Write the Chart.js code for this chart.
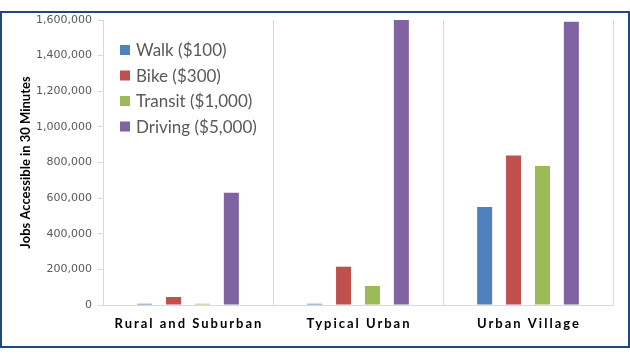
<!DOCTYPE html>
<html>
<head>
<meta charset="utf-8">
<script src="https://cdn.jsdelivr.net/npm/chart.js@4/dist/chart.umd.min.js"></script>
<style>
  html, body { margin: 0; padding: 0; background: #fff; }
  #wrap { width: 630px; height: 360px; position: relative; }
</style>
</head>
<body>
<div id="wrap"><canvas id="jobs-chart" width="630" height="360"></canvas></div>
<script>
// chart values
const categories = ['Rural and Suburban', 'Typical Urban', 'Urban Village'];
const seriesNames = ['Walk ($100)', 'Bike ($300)', 'Transit ($1,000)', 'Driving ($5,000)'];
const walkJobs = [7000, 7000, 550000];
const bikeJobs = [45000, 215000, 840000];
const transitJobs = [7000, 107000, 780000];
const drivingJobs = [630000, 1600000, 1590000];
const yTicks = [0, 200000, 400000, 600000, 800000, 1000000, 1200000, 1400000, 1600000];

const colors = ['#4F81BD', '#C0504D', '#9BBB59', '#8064A2'];
const seriesValues = [walkJobs, bikeJobs, transitJobs, drivingJobs];

// outer frame round the whole chart
const framePlugin = {
    id: 'frame',
    beforeDraw(chart) {
        const ctx = chart.ctx;
        ctx.save();
        ctx.fillStyle = '#fff';
        ctx.fillRect(0, 0, chart.width, chart.height);
        ctx.strokeStyle = '#1F497D';
        ctx.lineWidth = 2;
        ctx.strokeRect(1, 12, 628, 335);
        ctx.restore();
    }
};

// legend sits inside the plot, top left
const innerLegend = {
    id: 'innerLegend',
    afterDraw(chart) {
        const ctx = chart.ctx;
        ctx.save();
        ctx.font = '17px Lato, "Open Sans", sans-serif';
        ctx.textBaseline = 'middle';
        chart.data.datasets.forEach((ds, i) => {
            const y = 50 + i * 25.5;
            ctx.fillStyle = ds.backgroundColor;
            ctx.fillRect(120, y - 5, 10, 10);
            ctx.fillStyle = '#595959';
            ctx.fillText(ds.label, 136, y + 1);
        });
        ctx.restore();
    }
};

// category labels are bold and letter spaced
const spacedLabels = {
    id: 'spacedLabels',
    afterDraw(chart) {
        const ctx = chart.ctx;
        const xScale = chart.scales.x;
        ctx.save();
        ctx.font = 'bold 13px Lato, "Open Sans", sans-serif';
        ctx.letterSpacing = '2px';
        ctx.fillStyle = '#000';
        ctx.textAlign = 'center';
        ctx.textBaseline = 'middle';
        categories.forEach((c, i) => {
            ctx.fillText(c, xScale.getPixelForTick(i) + 1, 324);
        });
        ctx.restore();
    }
};

const ctx = document.getElementById('jobs-chart').getContext('2d');
new Chart(ctx, {
    type: 'bar',
    data: {
        labels: categories,
        datasets: seriesNames.map((name, i) => ({
            label: name,
            data: seriesValues[i],
            backgroundColor: colors[i],
            categoryPercentage: 0.68,
            barPercentage: 0.52
        }))
    },
    options: {
        responsive: false,
        animation: false,
        devicePixelRatio: 1,
        layout: { padding: { top: 20, right: 17, bottom: 0, left: 18 } },
        plugins: {
            legend: { display: false },
            tooltip: { enabled: false }
        },
        scales: {
            x: {
                grid: { color: '#D9D9D9', lineWidth: 1, drawTicks: false, offset: true },
                border: { color: '#D9D9D9' },
                ticks: { display: false },
                afterFit(scale) { scale.height = 55; }
            },
            y: {
                min: 0,
                max: 1600000,
                afterBuildTicks(scale) { scale.ticks = yTicks.map(v => ({ value: v })); },
                grid: { drawOnChartArea: false, drawTicks: true, tickLength: 5, color: '#D9D9D9' },
                border: { color: '#D9D9D9' },
                ticks: {
                    color: '#595959',
                    padding: 6,
                    font: { family: '"DejaVu Sans", sans-serif', size: 11 },
                    callback: v => v.toLocaleString('en-US')
                },
                title: {
                    display: true,
                    text: 'Jobs Accessible in 30 Minutes',
                    color: '#000',
                    font: { family: 'Lato, "Open Sans", sans-serif', size: 13, weight: 'bold' },
                    padding: 0
                },
                afterFit(scale) { scale.width = 85; }
            }
        }
    },
    plugins: [framePlugin, innerLegend, spacedLabels]
});
</script>
</body>
</html>
